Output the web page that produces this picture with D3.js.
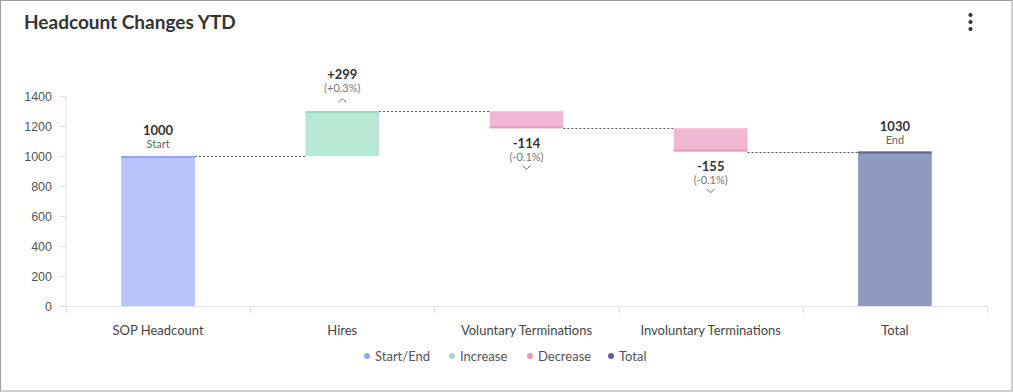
<!DOCTYPE html>
<html><head><meta charset="utf-8">
<script src="https://cdn.jsdelivr.net/npm/d3@7"></script>
<style>
html,body{margin:0;padding:0;background:#fff;}
svg{display:block;font-family:"Source Sans Pro",Lato,"Open Sans",sans-serif;}
</style></head>
<body>
<svg id="chart" width="1013" height="392"></svg>
<script>
const categories = ["SOP Headcount","Hires","Voluntary Terminations","Involuntary Terminations","Total"];
const changes = [1000, 299, -114, -155, 1030];
const kinds = ["start","increase","decrease","decrease","total"];
const pctLabels = ["", "(+0.3%)", "(-0.1%)", "(-0.1%)", ""];
const subLabels = ["Start", "", "", "", "End"];
const yTicks = [0,200,400,600,800,1000,1200,1400];
const legendItems = ["Start/End","Increase","Decrease","Total"];
const legendKinds = ["start","increase","decrease","total"];

const fills = {start:"#b8c5fd", increase:"#b7e8d3", decrease:"#f2b8d3", total:"#9099bf"};
const edges = {start:"#93a5f6", increase:"#95dbbd", decrease:"#ec97bd", total:"#5d6699"};
const dots  = {start:"#93a5f6", increase:"#9fdfc2", decrease:"#ee97bc", total:"#5b6397"};

const svg = d3.select("#chart");
svg.append("rect").attr("x",0.5).attr("y",0.5).attr("width",1011.5).attr("height",390.5)
  .attr("fill","#fff").attr("stroke","#9e9e9e").attr("stroke-width",1);

svg.append("text").attr("x",24).attr("y",29).text("Headcount Changes YTD")
  .attr("font-size",19).attr("font-weight",700).attr("fill","#333");
[15,22,29].forEach(cy=>svg.append("circle").attr("cx",970.5).attr("cy",cy).attr("r",2.1).attr("fill","#333"));

const x = d3.scaleBand().domain(categories).range([66,987]).paddingInner(0.6).paddingOuter(0.3);
const y = d3.scaleLinear().domain([0,1400]).range([306,96]);

// compute waterfall
let run = 0;
const data = categories.map((c,i)=>{
  let startV, endV;
  if (kinds[i]==="start" || kinds[i]==="total"){ startV=0; endV=changes[i]; run=endV; }
  else { startV=run; endV=run+changes[i]; run=endV; }
  return {c, kind:kinds[i], v:changes[i], startV, endV, lo:Math.min(startV,endV), hi:Math.max(startV,endV), pct:pctLabels[i], sub:subLabels[i]};
});

// y axis
const gy = svg.append("g").attr("transform","translate(66,0)")
  .call(d3.axisLeft(y).tickValues(yTicks).tickSize(7).tickPadding(7).tickFormat(d3.format("d")));
gy.select(".domain").attr("stroke","#e2e2e2").attr("d","M0,96V306");
gy.selectAll(".tick line").attr("stroke","#e2e2e2");
gy.selectAll(".tick text").attr("fill","#555").attr("font-size",12.5).attr("font-family","inherit");

// x axis (band boundaries)
const bounds = d3.range(categories.length+1).map(i=>66+i*(921/categories.length));
svg.append("line").attr("x1",66).attr("x2",987).attr("y1",306.5).attr("y2",306.5).attr("stroke","#e2e2e2");
bounds.forEach(b=>svg.append("line").attr("x1",Math.round(b)+0.5).attr("x2",Math.round(b)+0.5).attr("y1",306).attr("y2",313).attr("stroke","#e2e2e2"));
svg.append("g").selectAll("text").data(categories).join("text")
  .attr("x",d=>x(d)+x.bandwidth()/2).attr("y",335).attr("text-anchor","middle")
  .attr("font-size",13).attr("fill","#444").text(d=>d);

// connectors
data.forEach((d,i)=>{
  if(i===data.length-1) return;
  const n = data[i+1];
  const level = d.endV;
  svg.append("line").attr("x1",x(d.c)+x.bandwidth()).attr("x2",x(n.c))
    .attr("y1",Math.round(y(level))+0.5).attr("y2",Math.round(y(level))+0.5)
    .attr("stroke","#555").attr("stroke-width",1).attr("stroke-dasharray","2,2");
});

// bars
const bw = x.bandwidth();
data.forEach(d=>{
  svg.append("rect").attr("x",x(d.c)).attr("width",bw)
    .attr("y",y(d.hi)).attr("height",y(d.lo)-y(d.hi)).attr("fill",fills[d.kind]);
  const edgeY = d.kind==="decrease" ? y(d.lo)-2 : y(d.hi);
  svg.append("rect").attr("x",x(d.c)).attr("width",bw).attr("y",edgeY).attr("height",2).attr("fill",edges[d.kind]);
});

// labels
data.forEach(d=>{
  const cx = x(d.c)+bw/2;
  if(d.kind==="start"||d.kind==="total"){
    const top = y(d.hi);
    svg.append("text").attr("x",cx).attr("y",top-21).attr("text-anchor","middle")
      .attr("font-size",13).attr("font-weight",700).attr("fill","#333").text(d.v);
    svg.append("text").attr("x",cx).attr("y",top-8).attr("text-anchor","middle")
      .attr("font-size",11).attr("fill","#666").text(d.sub);
  } else if(d.kind==="increase"){
    const top = y(d.hi);
    svg.append("text").attr("x",cx).attr("y",top-32).attr("text-anchor","middle")
      .attr("font-size",13).attr("font-weight",700).attr("fill","#333").text("+"+d.v);
    svg.append("text").attr("x",cx).attr("y",top-19).attr("text-anchor","middle")
      .attr("font-size",11).attr("fill","#777").text(d.pct);
    svg.append("path").attr("d",`M${cx-4},${top-9}L${cx},${top-12.5}L${cx+4},${top-9}`)
      .attr("fill","none").attr("stroke","#666").attr("stroke-width",0.9);
  } else {
    const bot = y(d.lo);
    svg.append("text").attr("x",cx).attr("y",bot+19.5).attr("text-anchor","middle")
      .attr("font-size",13).attr("font-weight",700).attr("fill","#333").text(d.v);
    svg.append("text").attr("x",cx).attr("y",bot+32.5).attr("text-anchor","middle")
      .attr("font-size",11).attr("fill","#777").text(d.pct);
    svg.append("path").attr("d",`M${cx-4},${bot+37.5}L${cx},${bot+41}L${cx+4},${bot+37.5}`)
      .attr("fill","none").attr("stroke","#666").attr("stroke-width",0.9);
  }
});

// legend
const lg = svg.append("g");
const legendX = [367, 452, 530, 611];
legendItems.forEach((t,i)=>{
  lg.append("circle").attr("cx",legendX[i]).attr("cy",356).attr("r",3).attr("fill",dots[legendKinds[i]]);
  lg.append("text").attr("x",legendX[i]+8).attr("y",361).attr("font-size",13).attr("fill","#555").text(t);
});
</script>
</body></html>
